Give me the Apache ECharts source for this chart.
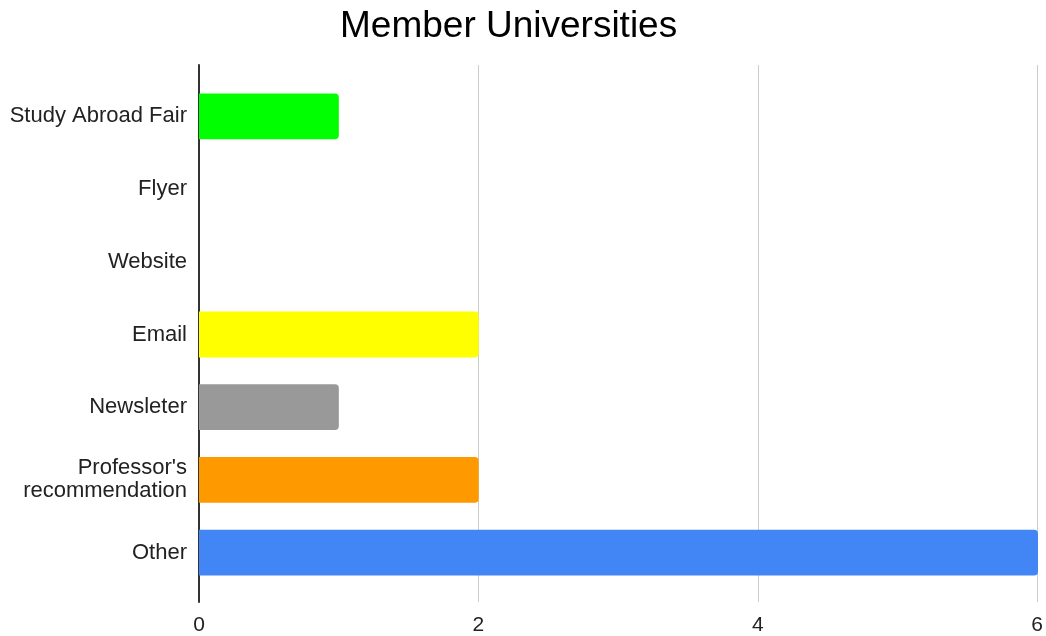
<!DOCTYPE html>
<html><head><meta charset="utf-8">
<script src="https://cdn.jsdelivr.net/npm/echarts@6/dist/echarts.min.js"></script>
<style>html,body{margin:0;padding:0;background:#fff}#c{width:1046px;height:636px}</style>
</head><body><div id="c"></div>
<script>
const categories = ["Study Abroad Fair", "Flyer", "Website", "Email", "Newsleter", "Professor's\nrecommendation", "Other"];
const values = [1, 0, 0, 2, 1, 2, 6];
const barColors = ["#00ff00", "#00ff00", "#00ff00", "#ffff00", "#999999", "#ff9900", "#4285f4"];
const xTicks = [0, 2, 4, 6];
const titleText = "Member Universities";

const chart = echarts.init(document.getElementById('c'), null, {renderer: 'canvas'});
const font = "Liberation Sans, Arial, sans-serif";
chart.setOption({
  animation: false,
  title: {text: titleText, left: 335, top: 3, textStyle: {fontFamily: font, fontSize: 37, fontWeight: 'normal', color: '#000'}},
  grid: [
    {left: 199, right: 8, top: 80, bottom: 47},
    {left: 199, right: 8, top: 65, bottom: 33}
  ],
  xAxis: [
    {gridIndex: 0, type: 'value', min: 0, max: 6, interval: 2, show: false},
    {gridIndex: 1, type: 'value', min: xTicks[0], max: xTicks[xTicks.length-1], interval: 2,
     axisLine: {show: false}, axisTick: {show: false},
     splitLine: {show: true, lineStyle: {color: '#cccccc', width: 1}},
     axisLabel: {margin: 13, fontFamily: font, fontSize: 21, color: '#222'}}
  ],
  yAxis: [
    {gridIndex: 0, type: 'category', data: categories, inverse: true,
     axisLine: {show: false}, axisTick: {show: false},
     axisLabel: {margin: 12, fontFamily: font, fontSize: 22, color: '#222', lineHeight: 23, align: 'right'}},
    {gridIndex: 1, type: 'value', min: 0, max: 1,
     axisLine: {show: true, onZero: false, lineStyle: {color: '#333', width: 2}},
     axisTick: {show: false}, axisLabel: {show: false}, splitLine: {show: false}}
  ],
  series: [{
    type: 'bar', xAxisIndex: 0, yAxisIndex: 0,
    data: values.map((v, i) => ({value: v, itemStyle: {color: barColors[i]}})),
    barCategoryGap: '37%',
    itemStyle: {borderRadius: [0, 4, 4, 0]},
    z: 3
  }]
});
</script></body></html>
